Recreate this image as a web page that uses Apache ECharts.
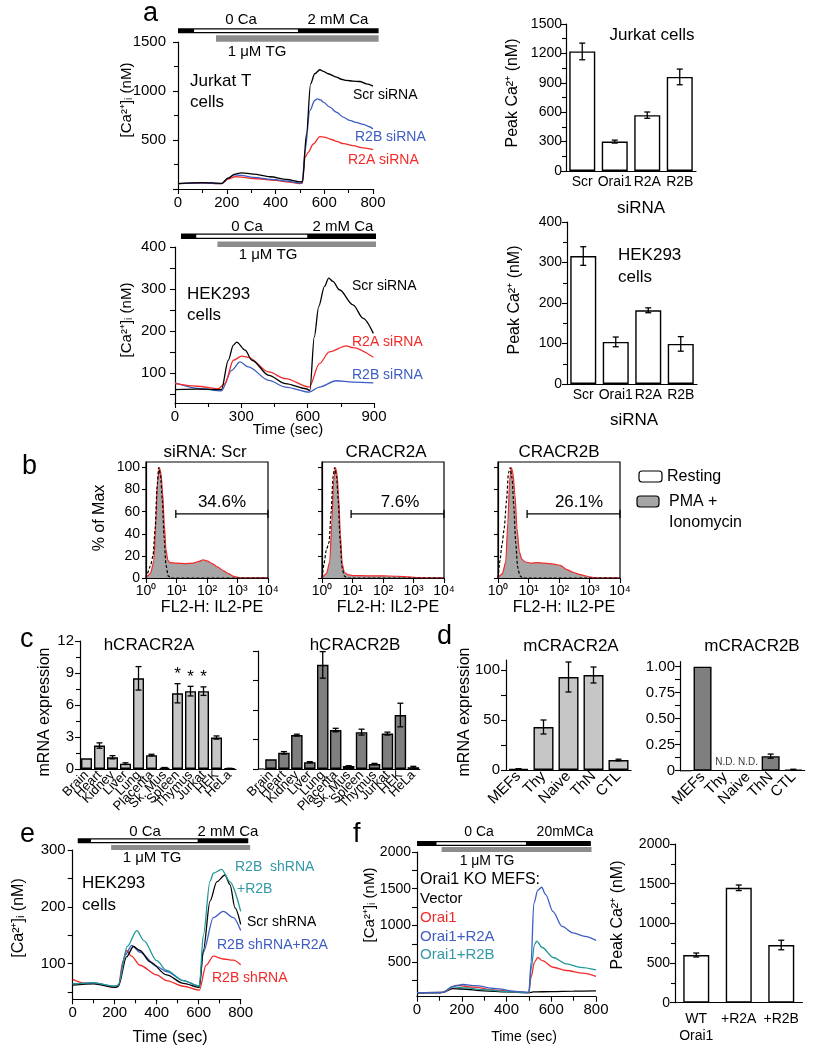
<!DOCTYPE html>
<html><head><meta charset="utf-8">
<script src="https://cdn.jsdelivr.net/npm/echarts@6/dist/echarts.min.js"></script>
<style>html,body{margin:0;padding:0;background:#fff}#c{width:823px;height:1050px}</style>
</head><body><div id="c"></div>
<script>
// ================= DATA =================
// Panel a (top): Jurkat T cells traces [time s, nM]
const jurkatScr = [[0,55],[100,66],[180,58],[205,110],[234,152],[262,165],[309,152],[378,125],[446,97],[500,73],[511,75],[527,561],[544,1073],[561,1176],[582,1217],[596,1200],[616,1176],[650,1142],[670,1120],[691,1108],[718,1101],[746,1097],[773,1073],[800,1050]];
const jurkatR2B = [[0,55],[100,62],[180,55],[205,110],[228,145],[260,140],[309,118],[400,95],[446,80],[500,60],[510,62],[521,391],[541,800],[561,903],[571,920],[585,910],[596,886],[623,835],[650,783],[680,730],[705,700],[730,680],[760,660],[785,635],[800,613]];
const jurkatR2A = [[0,55],[100,60],[180,55],[205,100],[234,125],[260,122],[309,107],[400,88],[446,73],[500,56],[510,58],[521,322],[534,374],[555,459],[582,534],[600,530],[630,505],[650,486],[680,462],[718,442],[760,420],[800,401]];
// Panel a: Jurkat peak
const siCats = ['Scr','Orai1','R2A','R2B'];
const jurkatPeak = [1220,300,570,960];
const jurkatPeakErr = [85,15,32,80];
// Panel a (bottom): HEK293 traces
const hekScr = [[0,60],[100,61],[210,60],[241,130],[264,166],[279,173],[317,154],[348,130],[424,94],[500,74],[592,62],[610,58],[630,186],[650,258],[676,306],[695,326],[714,318],[744,298],[805,262],[851,230],[897,194]];
const hekR2A = [[0,74],[100,68],[195,62],[226,74],[264,130],[302,140],[332,137],[424,102],[500,86],[607,66],[653,122],[698,150],[775,164],[805,160],[897,137]];
const hekR2B = [[0,76],[119,62],[210,57],[256,106],[294,126],[332,114],[424,82],[500,66],[607,54],[653,66],[729,81],[805,78],[897,76]];
const hekPeak = [316,104,182,99];
const hekPeakErr = [23,12,6,18];
// Panel b: flow cytometry histograms [FL2 intensity, % of max]
const facsRest1 = [[1,0],[1.1,4],[1.4,11],[1.7,20],[2.0,45],[2.3,82],[2.6,100],[3.0,93],[3.4,72],[3.9,38],[4.5,12],[5.3,2],[6.5,0],[10000,0]];
const facsRest2 = [[1,0],[1.15,12],[1.4,26],[1.7,32],[2.0,60],[2.3,92],[2.6,100],[3.0,92],[3.4,70],[3.9,35],[4.5,10],[5.3,2],[6.5,0],[10000,0]];
const facsRest3 = [[1,0],[1.15,15],[1.35,30],[1.6,45],[1.9,70],[2.2,95],[2.5,100],[2.9,90],[3.3,65],[3.8,32],[4.4,10],[5.2,2],[6.5,0],[10000,0]];
const facsPMA1 = [[1,0],[1.4,4],[1.8,15],[2.1,50],[2.4,88],[2.75,100],[3.1,95],[3.5,78],[4.0,48],[4.5,26],[5.2,16],[6,14],[10,13.5],[20,13],[35,13.5],[55,15],[75,16.5],[100,15.5],[150,13],[220,10],[350,6.5],[500,4],[750,1.5],[1200,0],[10000,0]];
const facsPMA2 = [[1,0],[1.4,4],[1.8,15],[2.1,50],[2.4,88],[2.75,100],[3.1,95],[3.5,75],[4.0,40],[4.6,13],[5.4,5],[7,3],[10,2.2],[30,2],[100,2],[300,1.6],[700,1],[1500,0.4],[3000,0],[10000,0]];
const facsPMA3 = [[1,0],[1.4,4],[1.8,15],[2.1,50],[2.4,88],[2.75,100],[3.1,95],[3.6,75],[4.2,45],[5,24],[6,17],[8,14.5],[12,13.5],[20,14],[30,13.5],[50,13],[70,12.5],[110,11.5],[180,7.5],[300,5],[500,3],[1000,1],[1500,0],[10000,0]];
const facsTitles = ['siRNA: Scr','CRACR2A','CRACR2B'];
const gateRange = [[9.5,10000],[9,10000],[9,10000]];
const gateLevel = 58;
const gatePct = ['34.6%','7.6%','26.1%'];
const logTicks = ['10\u2070','10\u00b9','10\u00b2','10\u00b3','10\u2074'];
// Panel c: human tissues
const tissueCats = ['Brain','Heart','Kidney','Liver','Lung','Placenta','Sk. Mus','Spleen','Thymus','Jurkat','HEK','HeLa'];
const hC2A = [1.0,2.2,1.1,0.5,8.5,1.3,0.12,7.1,7.3,7.3,2.95,0.05];
const hC2AErr = [0,0.25,0.15,0.08,1.1,0.08,0.02,0.9,0.45,0.4,0.15,0.02];
const hC2AStar = [0,0,0,0,0,0,0,1,1,1,0,0];
const hC2B = [0.33,0.55,1.15,0.23,3.53,1.32,0.1,1.25,0.17,1.2,1.83,0.06];
const hC2BErr = [0,0.04,0.03,0.02,0.45,0.06,0.01,0.1,0.02,0.05,0.4,0.03];
// Panel d: mouse cells
const mCats = ['MEFs','Thy','Naive','ThN','CTL'];
const mC2A = [1,43,93,95,10];
const mC2AErr = [0.3,7,15,8,0.8];
const mC2B = [1.0,'-','-',0.14,0.01];
const mC2BErr = [0,null,null,0.02,0.004];
const mC2BND = [1,2];
// Panel e: HEK293 shRNA traces
const eScr = [[0,62],[100,64],[200,58],[217,60],[257,112],[289,130],[320,123],[368,103],[447,80],[527,65],[603,58],[622,123],[654,210],[686,244],[725,256],[749,239],[773,198],[800,169]];
const eR2BplusR2B = [[0,64],[100,66],[200,60],[217,62],[260,130],[305,158],[340,140],[400,105],[447,88],[527,70],[603,60],[622,150],[654,245],[670,259],[709,266],[749,244],[800,192]];
const eR2BplusR2A = [[0,64],[100,66],[200,60],[217,62],[250,115],[281,132],[320,120],[400,95],[447,86],[527,70],[603,60],[622,120],[670,181],[717,192],[765,181],[800,158]];
const eR2B = [[0,72],[60,65],[100,66],[200,58],[217,60],[240,105],[257,123],[280,113],[320,97],[400,80],[447,70],[527,60],[603,53],[635,97],[670,113],[717,108],[765,106],[800,98]];
// Panel f: Orai1 KO MEFs
const fVector = [[0,80],[100,82],[116,90],[160,140],[200,135],[300,110],[400,95],[500,85],[520,95],[600,100],[700,105],[800,108]];
const fOrai1 = [[0,85],[116,90],[176,185],[250,160],[350,120],[450,95],[500,85],[510,300],[525,500],[540,564],[560,520],[608,431],[668,387],[740,350],[800,307]];
const fR2A = [[0,85],[116,90],[160,170],[206,196],[260,180],[350,140],[450,100],[500,90],[510,500],[522,1300],[540,1480],[557,1520],[575,1420],[608,1187],[648,987],[698,898],[750,850],[800,796]];
const fR2B = [[0,85],[116,90],[161,164],[220,150],[300,125],[400,100],[500,85],[510,400],[525,740],[535,787],[560,700],[608,564],[669,476],[730,430],[800,396]];
const fCats = ['WT\nOrai1','+R2A','+R2B'];
const fPeak = [601,1448,727];
const fPeakErr = [25,35,60];
// Protocol timelines [start,end] in seconds
const tlA1 = {black:[0,823], white:[66,492], gray:[156,823]};
const tlA2 = {black:[27,909], white:[96,598], gray:[192,909]};
const tlE = {black:[24,836], white:[87,595], gray:[183,845]};
const tlF = {black:[0,777], white:[87,487], gray:[110,780]};

// ================= STYLE =================
const FONT = '"Liberation Sans", Arial, Helvetica, sans-serif';
const RED = '#f42a2a', BLUE = '#3d5dc2', TEAL = '#1f9898', TEALTXT = '#3398a8';
const GRAYL = '#c6c6c6', GRAYD = '#7f7f7f';
const plain = v => String(v);

function mergeAxis(base, extra) {
  const r = {};
  for (const k in base) r[k] = (typeof base[k] === 'object' && !Array.isArray(base[k])) ? Object.assign({}, base[k]) : base[k];
  for (const k in extra) {
    if (extra[k] && typeof extra[k] === 'object' && !Array.isArray(extra[k]) && r[k] && typeof r[k] === 'object') Object.assign(r[k], extra[k]);
    else r[k] = extra[k];
  }
  return r;
}
const baseAxis = {
  axisLine: {show: true, onZero: false, lineStyle: {color: '#000', width: 1.2}},
  axisTick: {show: true, length: 5, lineStyle: {color: '#000', width: 1.1}},
  minorTick: {show: false},
  axisLabel: {color: '#000', fontSize: 15, fontFamily: FONT, margin: 6, formatter: plain},
  splitLine: {show: false}
};
function vAxis(gi, extra) { return mergeAxis(baseAxis, Object.assign({type: 'value', gridIndex: gi}, extra)); }
function cAxis(gi, cats, extra) {
  return mergeAxis(baseAxis, Object.assign({type: 'category', gridIndex: gi, data: cats,
    axisTick: {show: false}}, extra));
}
const minor2 = {show: true, splitNumber: 2, length: 4, lineStyle: {color: '#000', width: 1.1}};

const grids = [
  {left: 178, top: 42, width: 195, height: 147},      // 0 a trace
  {left: 566, top: 24, width: 130, height: 147},      // 1 a bar
  {left: 175, top: 247, width: 199, height: 156},     // 2 a hek trace
  {left: 567, top: 222, width: 130, height: 162},     // 3 a hek bar
  {left: 146, top: 462, width: 122, height: 116},     // 4 b1
  {left: 322, top: 462, width: 122, height: 116},     // 5 b2
  {left: 498, top: 462, width: 122, height: 116},     // 6 b3
  {left: 80, top: 641, width: 156, height: 128},      // 7 c left
  {left: 264.5, top: 651, width: 155.3, height: 118}, // 8 c right
  {left: 506, top: 660, width: 125, height: 110},     // 9 d left
  {left: 691.2, top: 661.5, width: 113.5, height: 109.2}, // 10 d right
  {left: 72.7, top: 850, width: 168, height: 149.3},  // 11 e
  {left: 417, top: 852, width: 179, height: 144.7},   // 12 f trace
  {left: 675, top: 844, width: 127.5, height: 158.7}  // 13 f bar
];
grids.forEach(g => { g.containLabel = false; });
[4,5,6].forEach(i => Object.assign(grids[i], {show: true, borderColor: '#000', borderWidth: 1.2, backgroundColor: 'transparent'}));

const logFmt = v => logTicks[Math.round(Math.log10(v))];
const xAxes = [
  vAxis(0, {min: 0, max: 800, interval: 200, minorTick: minor2}),
  cAxis(1, siCats, {axisLabel: {fontSize: 14, margin: 4, interval: 0}}),
  vAxis(2, {min: 0, max: 900, interval: 300, minorTick: minor2}),
  cAxis(3, siCats, {axisLabel: {fontSize: 14, margin: 4, interval: 0}}),
  vAxis(4, {type: 'log', logBase: 10, min: 1, max: 10000, splitNumber: 4, axisLabel: {fontSize: 14, margin: 6, formatter: logFmt}}),
  vAxis(5, {type: 'log', logBase: 10, min: 1, max: 10000, splitNumber: 4, axisLabel: {fontSize: 14, margin: 6, formatter: logFmt}}),
  vAxis(6, {type: 'log', logBase: 10, min: 1, max: 10000, splitNumber: 4, axisLabel: {fontSize: 14, margin: 6, formatter: logFmt}}),
  cAxis(7, tissueCats, {axisLabel: {fontSize: 13, rotate: 45, margin: 4, interval: 0}}),
  cAxis(8, tissueCats, {axisLabel: {fontSize: 13, rotate: 45, margin: 4, interval: 0}}),
  cAxis(9, mCats, {axisLabel: {fontSize: 15, rotate: 45, margin: 4, interval: 0}}),
  cAxis(10, mCats, {axisLabel: {fontSize: 15, rotate: 45, margin: 4, interval: 0}}),
  vAxis(11, {min: 0, max: 800, interval: 200, minorTick: minor2}),
  vAxis(12, {min: 0, max: 800, interval: 200, minorTick: minor2}),
  cAxis(13, fCats, {axisLabel: {fontSize: 14, margin: 8, interval: 0, lineHeight: 17}})
];
xAxes.forEach((a, i) => { a.gridIndex = i; });

const yAxes = [
  vAxis(0, {min: 0, max: 1500, interval: 500, minorTick: minor2, axisLabel: {margin: 12, formatter: v => v === 0 ? '' : String(v)}}),
  vAxis(1, {min: 0, max: 1500, interval: 300, minorTick: minor2, axisLabel: {fontSize: 14, margin: 4}}),
  vAxis(2, {min: 28, max: 400, axisTick: {customValues: [50,100,150,200,250,300,350,400]}, axisLabel: {margin: 9, customValues: [100,200,300,400]}}),
  vAxis(3, {min: 0, max: 400, interval: 100, minorTick: minor2, axisLabel: {fontSize: 14, margin: 5}}),
  vAxis(4, {min: 0, max: 105, axisTick: {customValues: [0,20,40,60,80,100], length: 4}, axisLabel: {fontSize: 14, margin: 6, customValues: [0,20,40,60,80,100]}}),
  vAxis(5, {min: 0, max: 105, axisTick: {customValues: [0,20,40,60,80,100], length: 4}, axisLabel: {show: false}}),
  vAxis(6, {min: 0, max: 105, axisTick: {customValues: [0,20,40,60,80,100], length: 4}, axisLabel: {show: false}}),
  vAxis(7, {min: 0, max: 12, interval: 3, minorTick: minor2, axisLabel: {fontSize: 15, margin: 6}}),
  vAxis(8, {min: 0, max: 4, interval: 1, offset: 6.5, axisLabel: {show: false}}),
  vAxis(9, {min: 0, max: 110, axisTick: {customValues: [0,25,50,75,100]}, axisLabel: {fontSize: 15, margin: 6, customValues: [0,50,100]}}),
  vAxis(10, {min: 0, max: 1.05, offset: 11.2, axisTick: {customValues: [0,0.125,0.25,0.375,0.5,0.625,0.75,0.875,1]}, axisLabel: {fontSize: 15, margin: 5, customValues: [0,0.25,0.5,0.75,1], formatter: v => v === 0 ? '0' : v.toFixed(2)}}),
  vAxis(11, {min: 37, max: 300, axisTick: {customValues: [50,100,150,200,250,300]}, axisLabel: {margin: 7, customValues: [100,200,300]}}),
  vAxis(12, {min: 30, max: 2000, axisTick: {customValues: [250,500,750,1000,1250,1500,1750,2000]}, axisLabel: {fontSize: 14, margin: 6, customValues: [500,1000,1500,2000]}}),
  vAxis(13, {min: 0, max: 2000, interval: 500, minorTick: minor2, axisLabel: {fontSize: 14, margin: 5}})
];
yAxes.forEach((a, i) => { a.gridIndex = i; });

// ================= SERIES =================
const series = [];
function trace(ai, data, color, z) {
  series.push({type: 'line', xAxisIndex: ai, yAxisIndex: ai, data: data, showSymbol: false, symbol: 'none',
    smooth: 0.3, smoothMonotone: 'x', lineStyle: {color: color, width: 1.3}, z: z || 2, animation: false});
}
function errRender(params, api) {
  const x = api.value(0), lo = api.value(1), hi = api.value(2), star = api.value(3);
  const pLo = api.coord([x, lo]), pHi = api.coord([x, hi]);
  const w = 3, st = {stroke: '#000', lineWidth: 1.3};
  const ch = [
    {type: 'line', shape: {x1: pLo[0], y1: pLo[1], x2: pHi[0], y2: pHi[1]}, style: st},
    {type: 'line', shape: {x1: pLo[0]-w, y1: pLo[1], x2: pLo[0]+w, y2: pLo[1]}, style: st},
    {type: 'line', shape: {x1: pHi[0]-w, y1: pHi[1], x2: pHi[0]+w, y2: pHi[1]}, style: st}
  ];
  if (star === 1) ch.push({type: 'text', x: pHi[0], y: pHi[1] - 1, style: {text: '*', fill: '#000', font: '17px ' + FONT, align: 'center', verticalAlign: 'bottom'}});
  return {type: 'group', children: ch};
}
function bars(ai, vals, errs, color, bw, stars) {
  series.push({type: 'bar', xAxisIndex: ai, yAxisIndex: ai, data: vals, barWidth: bw,
    itemStyle: {color: color, borderColor: '#000', borderWidth: 1.4}, animation: false, z: 2});
  const ed = [];
  vals.forEach((v, i) => {
    if (typeof v === 'number' && errs[i] != null && errs[i] > 0) ed.push([i, v - errs[i], v + errs[i], stars ? stars[i] : 0]);
  });
  series.push({type: 'custom', xAxisIndex: ai, yAxisIndex: ai, data: ed, renderItem: errRender, z: 5, animation: false,
    encode: {x: 0, y: [1, 2]}});
}
// a
trace(0, jurkatR2A, RED); trace(0, jurkatR2B, BLUE); trace(0, jurkatScr, '#000', 3);
bars(1, jurkatPeak, jurkatPeakErr, '#fff', 26);
trace(2, hekR2B, BLUE); trace(2, hekR2A, RED); trace(2, hekScr, '#000', 3);
bars(3, hekPeak, hekPeakErr, '#fff', 26);
// b
[[facsRest1, facsPMA1], [facsRest2, facsPMA2], [facsRest3, facsPMA3]].forEach((p, k) => {
  const ai = 4 + k;
  series.push({type: 'line', xAxisIndex: ai, yAxisIndex: ai, data: p[1], symbol: 'none', smooth: 0.2, smoothMonotone: 'x',
    lineStyle: {color: RED, width: 1.2}, areaStyle: {color: '#a6a6a6', opacity: 1}, animation: false, z: 2});
  series.push({type: 'line', xAxisIndex: ai, yAxisIndex: ai, data: p[0], symbol: 'none', smooth: 0.2, smoothMonotone: 'x',
    lineStyle: {color: '#000', width: 1.2, type: [3, 2]}, animation: false, z: 3});
  series.push({type: 'line', xAxisIndex: ai, yAxisIndex: ai, data: [[gateRange[k][0], gateLevel], [gateRange[k][1], gateLevel]],
    symbol: 'rect', symbolSize: [1.3, 8], showSymbol: true, itemStyle: {color: '#000'}, lineStyle: {color: '#000', width: 1.2}, animation: false, z: 4});
});
// c
bars(7, hC2A, hC2AErr, GRAYL, 11, hC2AStar);
bars(8, hC2B, hC2BErr, GRAYD, 11.5);
// d
bars(9, mC2A, mC2AErr, GRAYL, 20);
bars(10, mC2B, mC2BErr, GRAYD, 18);
series.push({type: 'scatter', xAxisIndex: 10, yAxisIndex: 10, data: mC2BND.map(i => [i, 0]), symbolSize: 0,
  label: {show: true, position: 'top', distance: 3, formatter: 'N.D.', fontSize: 10, color: '#000', fontFamily: FONT}, animation: false});
// e
trace(11, eR2B, RED); trace(11, eR2BplusR2A, BLUE); trace(11, eScr, '#000', 3); trace(11, eR2BplusR2B, TEAL, 4);
// f
trace(12, fVector, '#000'); trace(12, fOrai1, RED); trace(12, fR2B, TEAL); trace(12, fR2A, BLUE, 4);
bars(13, fPeak, fPeakErr, '#fff', 26);

const chart = echarts.init(document.getElementById('c'), null, {renderer: 'canvas'});
chart.setOption({animation: false, backgroundColor: '#fff', grid: grids, xAxis: xAxes, yAxis: yAxes, series: series});

// ================= ANNOTATIONS =================
const G = [];
function T(x, y, text, size, opt) {
  opt = opt || {};
  G.push({type: 'text', x: x, y: y, rotation: opt.rot || 0, z: 100,
    style: {text: text, fill: opt.color || '#000', font: (opt.bold ? 'bold ' : '') + size + 'px ' + FONT,
      align: opt.align || 'left', verticalAlign: 'middle'}});
}
function timeline(ai, tl, yb, hb, yg, hg) {
  const px = v => chart.convertToPixel({xAxisIndex: ai}, v);
  const b0 = px(tl.black[0]), b1 = px(tl.black[1]);
  const w0 = px(tl.white[0]), w1 = px(tl.white[1]);
  const g0 = px(tl.gray[0]), g1 = px(tl.gray[1]);
  G.push({type: 'rect', z: 100, shape: {x: b0, y: yb, width: b1 - b0, height: hb}, style: {fill: '#000'}});
  G.push({type: 'rect', z: 101, shape: {x: w0, y: yb + 1.2, width: w1 - w0, height: hb - 2.4}, style: {fill: '#fff'}});
  G.push({type: 'rect', z: 100, shape: {x: g0, y: yg, width: g1 - g0, height: hg}, style: {fill: '#8c8c8c'}});
}
timeline(0, tlA1, 28.3, 5, 35.3, 6.5);
timeline(2, tlA2, 233.5, 5.5, 241.5, 5.5);
timeline(11, tlE, 838.3, 5, 845, 5);
timeline(12, tlF, 841, 5, 847, 5);
// connect offset y-axes to their x-axis baselines (c right, d right)
function baseJoin(gi, off) {
  const g = grids[gi], y = g.top + g.height;
  G.push({type: 'line', z: 50, shape: {x1: g.left - off, y1: y, x2: g.left, y2: y}, style: {stroke: '#000', lineWidth: 1.2}});
}
baseJoin(8, 6.5); baseJoin(10, 11.2);

// panel letters
T(143, 14, 'a', 27); T(22, 467, 'b', 27); T(20, 640, 'c', 27); T(437, 637, 'd', 27); T(20, 835, 'e', 27); T(353, 835, 'f', 27);
// a top
T(241, 20, '0 Ca', 15, {align: 'center'}); T(338, 20, '2 mM Ca', 15, {align: 'center'}); T(257, 52, '1 \u03bcM TG', 15, {align: 'center'});
T(190, 81, 'Jurkat T', 17); T(190, 102, 'cells', 17);
T(353, 95, 'Scr siRNA', 14); T(355, 137, 'R2B siRNA', 14, {color: BLUE}); T(348, 160, 'R2A siRNA', 14, {color: RED});
T(127, 100, '[Ca\u00b2\u207a]\u1d62 (nM)', 15, {align: 'center', rot: Math.PI / 2});
T(652, 35, 'Jurkat cells', 17, {align: 'center'}); T(641, 208, 'siRNA', 17, {align: 'center'});
T(513, 93, 'Peak Ca\u00b2\u207a (nM)', 16, {align: 'center', rot: Math.PI / 2});
// a bottom
T(247, 227, '0 Ca', 15, {align: 'center'}); T(343, 227, '2 mM Ca', 15, {align: 'center'}); T(268, 255, '1 \u03bcM TG', 15, {align: 'center'});
T(187, 294, 'HEK293', 17); T(187, 315, 'cells', 17);
T(352, 286, 'Scr siRNA', 14); T(352, 342, 'R2A siRNA', 14, {color: RED}); T(352, 375, 'R2B siRNA', 14, {color: BLUE});
T(288, 430, 'Time (sec)', 15, {align: 'center'});
T(127, 320, '[Ca\u00b2\u207a]\u1d62 (nM)', 15, {align: 'center', rot: Math.PI / 2});
T(618, 255, 'HEK293', 17); T(618, 277, 'cells', 17); T(634, 420, 'siRNA', 17, {align: 'center'});
T(515, 300, 'Peak Ca\u00b2\u207a (nM)', 16, {align: 'center', rot: Math.PI / 2});
// b
[205, 386, 559].forEach((x, k) => T(x, 452, facsTitles[k], 17, {align: 'center'}));
[222, 400, 579].forEach((x, k) => T(x, 502, gatePct[k], 17, {align: 'center'}));
[212, 388, 564].forEach(x => T(x, 608, 'FL2-H: IL2-PE', 16, {align: 'center'}));
T(100, 518, '% of Max', 16, {align: 'center', rot: Math.PI / 2});
G.push({type: 'rect', z: 100, shape: {x: 639, y: 471, width: 23, height: 11, r: 3}, style: {fill: '#fff', stroke: '#000', lineWidth: 1.2}});
G.push({type: 'rect', z: 100, shape: {x: 637, y: 496, width: 22, height: 11, r: 3}, style: {fill: '#a6a6a6', stroke: '#000', lineWidth: 1.2}});
T(667, 477, 'Resting', 16); T(669, 502, 'PMA +', 16); T(669, 523, 'Ionomycin', 16);
// c, d
T(149, 645, 'hCRACR2A', 17, {align: 'center'}); T(355, 645, 'hCRACR2B', 17, {align: 'center'});
T(45, 712, 'mRNA expression', 16, {align: 'center', rot: Math.PI / 2});
T(571, 646, 'mCRACR2A', 17, {align: 'center'}); T(752, 646, 'mCRACR2B', 17, {align: 'center'});
T(465, 712, 'mRNA expression', 16, {align: 'center', rot: Math.PI / 2});
// e
T(145, 832, '0 Ca', 15, {align: 'center'}); T(228, 832, '2 mM Ca', 15, {align: 'center'}); T(152, 858, '1 \u03bcM TG', 15, {align: 'center'});
T(82, 883, 'HEK293', 17); T(82, 905, 'cells', 17);
T(235, 867, 'R2B  shRNA', 14, {color: TEALTXT}); T(237, 889, '+R2B', 14, {color: TEALTXT});
T(247, 922, 'Scr shRNA', 14); T(217, 945, 'R2B shRNA+R2A', 14, {color: BLUE}); T(212, 978, 'R2B shRNA', 14, {color: RED});
T(170, 1038, 'Time (sec)', 16, {align: 'center'});
T(19, 918, '[Ca\u00b2\u207a]\u1d62 (nM)', 16, {align: 'center', rot: Math.PI / 2});
// f
T(479, 832, '0 Ca', 14, {align: 'center'}); T(565, 832, '20mMCa', 14, {align: 'center'}); T(487, 861, '1 \u03bcM TG', 14, {align: 'center'});
T(420, 880, 'Orai1 KO MEFS:', 16); T(420, 899, 'Vector', 15); T(420, 918, 'Orai1', 15, {color: RED});
T(420, 937, 'Orai1+R2A', 15, {color: BLUE}); T(420, 955, 'Orai1+R2B', 15, {color: TEALTXT});
T(524, 1037, 'Time (sec)', 14, {align: 'center'});
T(370, 905, '[Ca\u00b2\u207a]\u1d62 (nM)', 15, {align: 'center', rot: Math.PI / 2});
T(618, 915, 'Peak Ca\u00b2\u207a (nM)', 16, {align: 'center', rot: Math.PI / 2});

chart.setOption({graphic: {elements: G}});
</script></body></html>
